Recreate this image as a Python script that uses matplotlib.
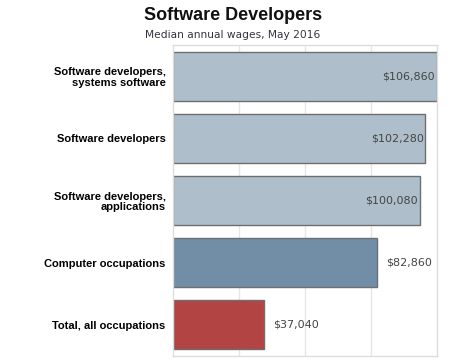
import matplotlib
matplotlib.use("Agg")
import matplotlib.pyplot as plt

# 数据
categories = ["Software developers,\nsystems software", "Software developers",
              "Software developers,\napplications", "Computer occupations",
              "Total, all occupations"]
wages = [106860, 102280, 100080, 82860, 37040]
value_labels = ["$106,860", "$102,280", "$100,080", "$82,860", "$37,040"]
bar_colors = ["#aebfcb", "#aebfcb", "#aebfcb", "#728ea7", "#b34444"]
label_inside = [True, True, True, False, False]

fig = plt.figure(figsize=(4.5, 3.6), dpi=100)
ax = fig.add_axes([0.3836, 0.0111, 0.5875, 0.8639])

y = list(range(len(categories)))
ax.barh(y, wages, height=0.79, color=bar_colors, edgecolor="#6e6e6e", linewidth=1.0, zorder=2)

ax.set_xlim(0, 107000)
ax.set_ylim(len(categories) - 0.5, -0.5)
ax.set_xticks([26750, 53500, 80250])
ax.set_xticklabels([])
ax.tick_params(axis="x", length=0)
ax.grid(axis="x", color="#e6e6e6", linewidth=1.0, zorder=0)

ax.set_yticks(y)
ax.set_yticklabels(categories, fontsize=8, fontweight="bold",
                   family="Liberation Sans", linespacing=1.1)
ax.tick_params(axis="y", length=0, pad=5)

for s in ax.spines.values():
    s.set_color("#dddddd")
    s.set_linewidth(1.0)

# 数值标签
for i, (w, txt, inside) in enumerate(zip(wages, value_labels, label_inside)):
    if inside:
        ax.text(w - 700, i, txt, ha="right", va="center", fontsize=8,
                color="#444444", family="DejaVu Sans", zorder=3)
    else:
        ax.text(w + 3500, i, txt, ha="left", va="center", fontsize=8,
                color="#444444", family="DejaVu Sans", zorder=3)

fig.text(0.518, 0.958, "Software Developers", ha="center", va="center",
         fontsize=13, fontweight="bold", family="Liberation Sans", color="#111111")
fig.text(0.518, 0.902, "Median annual wages, May 2016", ha="center", va="center",
         fontsize=7.7, family="DejaVu Sans", color="#333344")

fig.savefig("out.png", dpi=100)
